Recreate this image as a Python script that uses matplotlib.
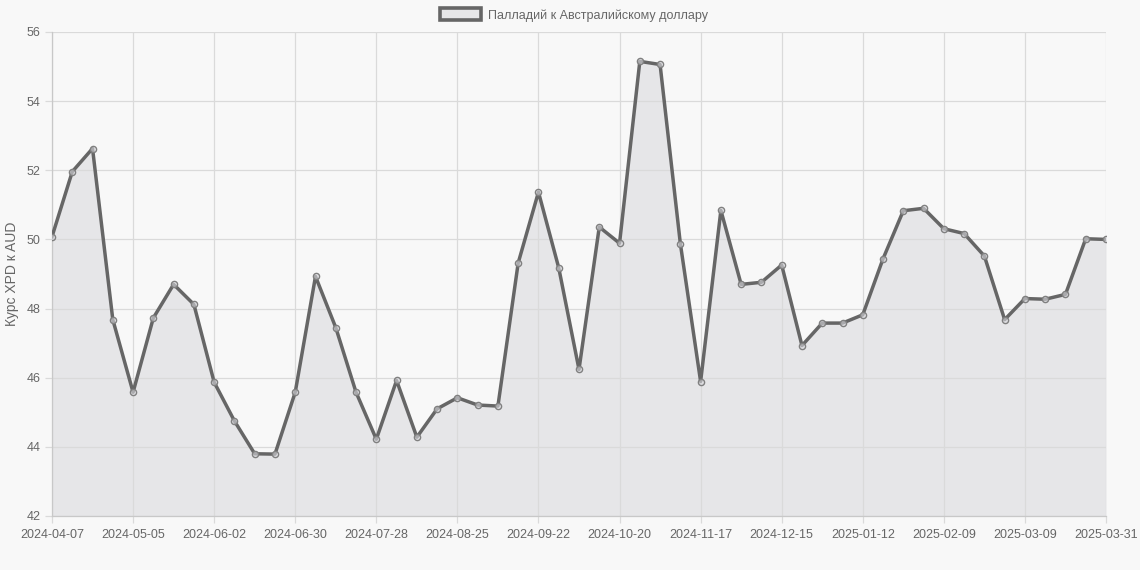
import matplotlib
matplotlib.use("Agg")
import matplotlib.pyplot as plt
import matplotlib.patches as mpatches
import pandas as pd
import numpy as np

plt.rcParams['font.family'] = ['Liberation Sans', 'DejaVu Sans']

dates = [d.strftime('%Y-%m-%d') for d in pd.date_range('2024-04-07', periods=52, freq='7D')] + ['2025-03-31']
values = [50.08, 51.96, 52.63, 47.68, 45.58, 47.73, 48.70, 48.12, 45.87, 44.75,
          43.80, 43.79, 45.58, 48.93, 47.45, 45.58, 44.22, 45.92, 44.28, 45.10,
          45.42, 45.21, 45.18, 49.32, 51.37, 49.18, 46.24, 50.36, 49.89, 55.15,
          55.06, 49.88, 45.89, 50.84, 48.70, 48.76, 49.26, 46.93, 47.58, 47.58,
          47.82, 49.44, 50.83, 50.90, 50.31, 50.17, 49.52, 47.68, 48.29, 48.27,
          48.41, 50.02, 50.00]
series_label = 'Палладий к Австралийскому доллару'
y_label = 'Курс XPD к AUD'
y_ticks = [42, 44, 46, 48, 50, 52, 54, 56]

bg = '#f8f8f8'
line_c = '#666666'
fill_c = '#e6e6e8'
grid_c = '#dadada'
text_c = '#666666'

fig = plt.figure(figsize=(11.4, 5.7), dpi=100, facecolor=bg)
ax = fig.add_axes([52/1140, 1-516/570, (1106-52)/1140, (516-32)/570])
ax.set_facecolor(bg)

x = np.arange(len(values))
ax.fill_between(x, values, 42, color=fill_c, zorder=1, linewidth=0)
ax.plot(x, values, color=line_c, lw=2.5, zorder=3, solid_joinstyle='round')
ax.scatter(x, values, s=20, facecolor=(0.85, 0.85, 0.87, 0.6), edgecolor='#808080', linewidth=1.0, zorder=4)

ax.set_xlim(0, len(values)-1)
ax.set_ylim(42, 56)
tick_idx = list(range(0, len(values)-1, 4)) + [len(values)-1]
ax.set_xticks(tick_idx)
ax.set_xticklabels([dates[i] for i in tick_idx])
ax.set_yticks(y_ticks)
ax.grid(True, color=grid_c, lw=0.9, zorder=0)
ax.tick_params(axis='both', colors=grid_c, labelcolor=text_c, labelsize=9, length=5, width=0.9, pad=3)
ax.tick_params(axis='x', pad=4)
for s in ['top', 'right']:
    ax.spines[s].set_visible(False)
for s in ['left', 'bottom']:
    ax.spines[s].set_color('#c8c8c8')
    ax.spines[s].set_linewidth(0.9)

ax.set_ylabel(y_label, color=text_c, fontsize=10, labelpad=6)

handle = mpatches.Patch(facecolor=fill_c, edgecolor=line_c, linewidth=2.6)
leg = fig.legend([handle], [series_label], loc='center', bbox_to_anchor=(574/1140, 1-15/570),
                 frameon=False, fontsize=9, handlelength=3.3, handleheight=1.1, labelcolor=text_c,
                 handletextpad=0.55)

fig.savefig('out.png', dpi=100, facecolor=bg)
